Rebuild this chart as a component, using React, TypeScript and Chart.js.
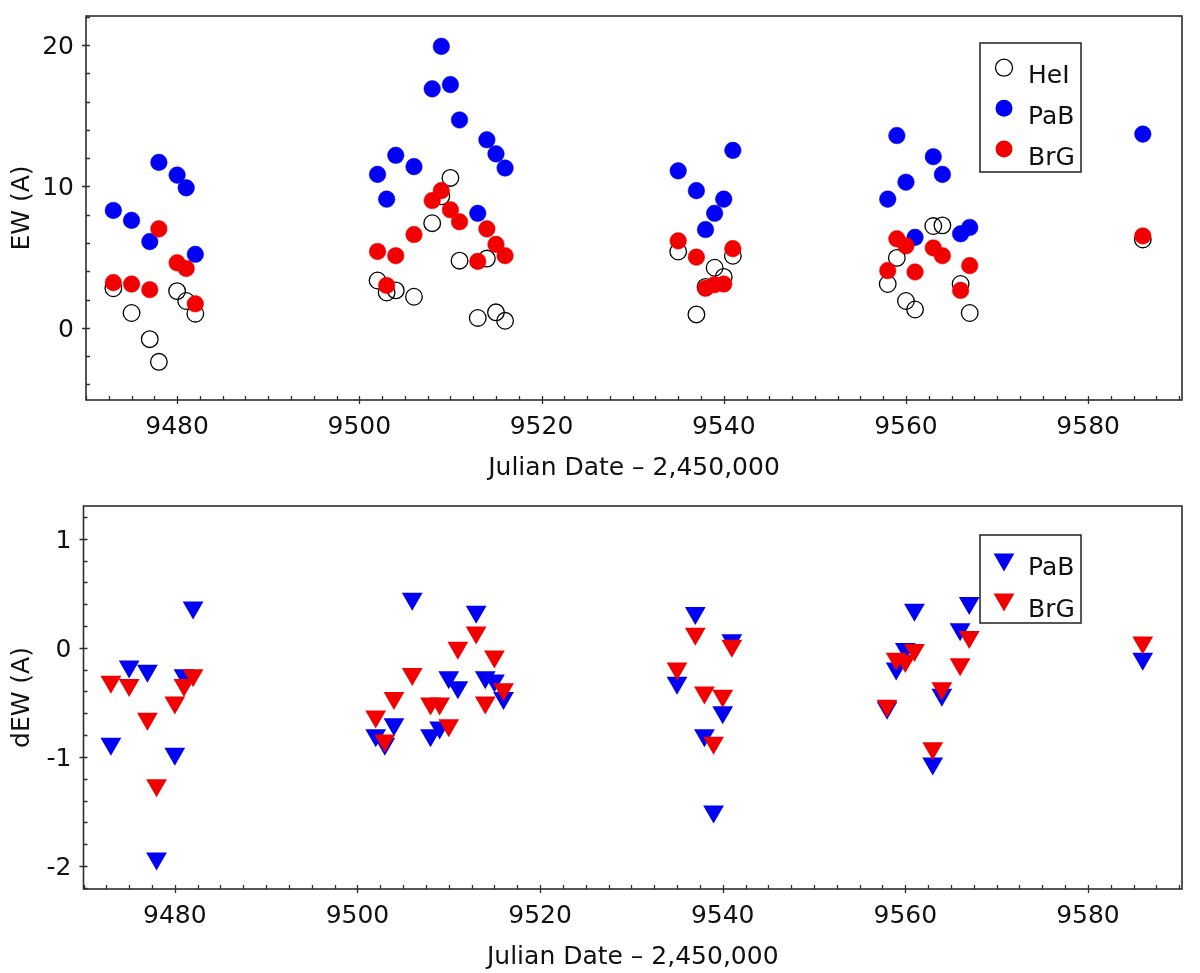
import { useEffect, useRef } from "react";
import { Chart, registerables } from "chart.js";

Chart.register(...registerables);

const FONT = "'DejaVu Sans', sans-serif";
const INK = "#111";
const FRAME = "#2e2e2e";
const BLUE = "#0000f5";
const RED = "#f20000";

// Julian Date - 2,450,000
const jd = [
  9473, 9475, 9477, 9478, 9480, 9481, 9482,
  9502, 9503, 9504, 9506, 9508, 9509, 9510, 9511, 9513, 9514, 9515, 9516,
  9535, 9537, 9538, 9539, 9540, 9541,
  9558, 9559, 9560, 9561, 9563, 9564, 9566, 9567,
  9586,
];

// equivalent widths (A)
const ewHeI = [
  2.8, 1.05, -0.8, -2.4, 2.6, 1.9, 1.0,
  3.35, 2.5, 2.65, 2.2, 7.4, 9.3, 10.6, 4.75, 0.7, 4.9, 1.1, 0.5,
  5.4, 0.95, 2.9, 4.25, 3.6, 5.1,
  3.1, 4.95, 1.9, 1.3, 7.2, 7.25, 3.1, 1.05,
  6.25,
];
const ewPaB = [
  8.3, 7.6, 6.1, 11.7, 10.8, 9.9, 5.2,
  10.85, 9.1, 12.2, 11.4, 16.9, 19.9, 17.2, 14.7, 8.1, 13.3, 12.3, 11.3,
  11.1, 9.7, 6.95, 8.1, 9.1, 12.55,
  9.1, 13.6, 10.3, 6.4, 12.1, 10.85, 6.65, 7.1,
  13.7,
];
const ewBrG = [
  3.2, 3.1, 2.7, 7.0, 4.6, 4.2, 1.7,
  5.4, 3.0, 5.1, 6.6, 9.0, 9.7, 8.35, 7.5, 4.7, 7.0, 5.9, 5.1,
  6.15, 5.0, 2.8, 3.05, 3.1, 5.6,
  4.05, 6.3, 5.8, 3.95, 5.65, 5.1, 2.65, 4.4,
  6.5,
];

// dEW (A)
const dewPaB = [
  -0.88, -0.17, -0.21, -1.93, -0.97, -0.25, 0.37,
  -0.8, -0.88, -0.7, 0.45, -0.8, -0.73, -0.27, -0.36, 0.33, -0.27, -0.3, -0.46,
  -0.32, 0.32, -0.8, -1.5, -0.59, 0.07,
  -0.55, -0.19, -0.01, 0.35, -1.06, -0.43, 0.17, 0.41,
  -0.1,
];
const dewBrG = [
  -0.31, -0.34, -0.65, -1.26, -0.5, -0.34, -0.25,
  -0.63, -0.85, -0.46, -0.24, -0.51, -0.51, -0.71, 0.0, 0.14, -0.5, -0.08, -0.38,
  -0.19, 0.13, -0.41, -0.87, -0.44, 0.02,
  -0.53, -0.1, -0.12, -0.02, -0.92, -0.37, -0.15, 0.1,
  0.05,
];

const xTicks = [9480, 9500, 9520, 9540, 9560, 9580];
const ewTicks = [0, 10, 20];
const dewTicks = [-2, -1, 0, 1];

const pts = (ys: number[]) => ys.map((y, i) => ({ x: jd[i], y }));

function drawMarker(ctx: CanvasRenderingContext2D, kind: string, color: string, x: number, y: number) {
  ctx.save();
  ctx.beginPath();
  if (kind === "tri") {
    const r = 12;
    ctx.moveTo(x, y + r);
    ctx.lineTo(x - r * 0.866, y - r / 2);
    ctx.lineTo(x + r * 0.866, y - r / 2);
    ctx.closePath();
    ctx.fillStyle = color;
    ctx.fill();
  } else {
    ctx.arc(x, y, 8.5, 0, Math.PI * 2);
    if (kind === "open") {
      ctx.lineWidth = 1.3;
      ctx.strokeStyle = "#000";
      ctx.stroke();
    } else {
      ctx.fillStyle = color;
      ctx.fill();
    }
  }
  ctx.restore();
}

// frame, ticks, axis text and boxed legend
const framePlugin = {
  id: "frame",
  afterDraw(chart: any, _args: any, opts: any) {
    const { ctx, chartArea: a, scales } = chart;
    const x = scales.x;
    const y = scales.y;
    ctx.save();
    ctx.strokeStyle = FRAME;
    ctx.lineWidth = 1.6;
    ctx.strokeRect(a.left, a.top, a.right - a.left, a.bottom - a.top);

    ctx.lineWidth = 1.3;
    ctx.beginPath();
    for (let v = Math.ceil(x.min / opts.xMinor) * opts.xMinor; v <= x.max; v += opts.xMinor) {
      const px = Math.round(x.getPixelForValue(v)) + 0.5;
      const major = Math.abs(v / opts.xMajor - Math.round(v / opts.xMajor)) < 1e-6;
      ctx.moveTo(px, a.bottom - 4);
      ctx.lineTo(px, a.bottom + (major ? 4 : 0));
    }
    for (let v = Math.ceil(y.min / opts.yMinor - 1e-9) * opts.yMinor; v <= y.max; v += opts.yMinor) {
      const py = Math.round(y.getPixelForValue(v)) + 0.5;
      const major = Math.abs(v / opts.yMajor - Math.round(v / opts.yMajor)) < 1e-6;
      ctx.moveTo(a.left + 4, py);
      ctx.lineTo(a.left - (major ? 4 : 0), py);
    }
    ctx.stroke();

    // tick labels and axis titles
    ctx.fillStyle = INK;
    ctx.font = `25px ${FONT}`;
    ctx.textBaseline = "alphabetic";
    ctx.textAlign = "center";
    xTicks.forEach((v) => ctx.fillText(String(v), x.getPixelForValue(v), a.bottom + 34));
    ctx.textAlign = "right";
    opts.yTicks.forEach((v: number) => ctx.fillText(String(v), a.left - 12, y.getPixelForValue(v) + 9));
    ctx.textAlign = "center";
    ctx.fillText("Julian Date – 2,450,000", (a.left + a.right) / 2, a.bottom + 75);
    ctx.save();
    ctx.translate(29, (a.top + a.bottom) / 2);
    ctx.rotate(-Math.PI / 2);
    ctx.fillText(opts.yTitle, 0, 0);
    ctx.restore();

    const lg = opts.legend;
    ctx.fillStyle = "#fff";
    ctx.fillRect(lg.x, lg.y, lg.w, lg.h);
    ctx.strokeStyle = FRAME;
    ctx.lineWidth = 1.6;
    ctx.strokeRect(lg.x, lg.y, lg.w, lg.h);
    ctx.textAlign = "left";
    lg.items.forEach((it: any, i: number) => {
      drawMarker(ctx, it.marker, it.color, lg.markerX, lg.rows[i]);
      ctx.fillStyle = INK;
      ctx.fillText(it.label, lg.textX, lg.baselines[i]);
    });
    ctx.restore();
  },
};

function makeOptions(p: {
  yMin: number; yMax: number; yTicks: number[]; yTitle: string;
  left: number; top: number; xHeight: number;
  yMinor: number; yMajor: number; legend: any;
}): any {
  return {
    responsive: false,
    animation: false,
    events: [],
    layout: { padding: { left: 0, top: p.top, right: 18, bottom: 0 } },
    plugins: {
      legend: { display: false },
      tooltip: { enabled: false },
      frame: {
        xMinor: 2.5, xMajor: 20, yMinor: p.yMinor, yMajor: p.yMajor,
        yTicks: p.yTicks, yTitle: p.yTitle, legend: p.legend,
      },
    },
    scales: {
      x: {
        type: "linear",
        min: 9470,
        max: 9590.3,
        afterFit: (s: any) => { s.height = p.xHeight; },
        grid: { display: false },
        border: { display: false },
        ticks: { display: false },
      },
      y: {
        type: "linear",
        min: p.yMin,
        max: p.yMax,
        afterFit: (s: any) => { s.width = p.left; },
        grid: { display: false },
        border: { display: false },
        ticks: { display: false },
      },
    },
  };
}

export default function App() {
  const topRef = useRef<HTMLCanvasElement>(null);
  const botRef = useRef<HTMLCanvasElement>(null);

  useEffect(() => {
    if (!topRef.current || !botRef.current) return;

    const top = new Chart(topRef.current, {
      type: "scatter",
      data: {
        datasets: [
          { label: "HeI", data: pts(ewHeI), order: 2, pointStyle: "circle", radius: 8.3, backgroundColor: "rgba(0,0,0,0)", borderColor: "#000", borderWidth: 1.3 },
          { label: "PaB", data: pts(ewPaB), order: 1, pointStyle: "circle", radius: 8.3, backgroundColor: BLUE, borderColor: BLUE, borderWidth: 0.5 },
          { label: "BrG", data: pts(ewBrG), order: 0, pointStyle: "circle", radius: 8.3, backgroundColor: RED, borderColor: RED, borderWidth: 0.5 },
        ],
      },
      options: makeOptions({
        yMin: -5.1, yMax: 22.05, yTicks: ewTicks, yTitle: "EW (A)",
        left: 86, top: 16, xHeight: 86, yMinor: 2, yMajor: 10,
        legend: {
          x: 980, y: 43, w: 101, h: 129, markerX: 1004, textX: 1028,
          rows: [67.7, 108.3, 149], baselines: [83, 124, 164.5],
          items: [
            { label: "HeI", marker: "open", color: "#000" },
            { label: "PaB", marker: "dot", color: BLUE },
            { label: "BrG", marker: "dot", color: RED },
          ],
        },
      }),
      plugins: [framePlugin],
    } as any);

    const bot = new Chart(botRef.current, {
      type: "scatter",
      data: {
        datasets: [
          { label: "PaB", data: pts(dewPaB), order: 1, pointStyle: "triangle", rotation: 180, radius: 12, backgroundColor: BLUE, borderColor: BLUE, borderWidth: 0 },
          { label: "BrG", data: pts(dewBrG), order: 0, pointStyle: "triangle", rotation: 180, radius: 12, backgroundColor: RED, borderColor: RED, borderWidth: 0 },
        ],
      },
      options: makeOptions({
        yMin: -2.21, yMax: 1.3, yTicks: dewTicks, yTitle: "dEW (A)",
        left: 83.5, top: 20, xHeight: 84, yMinor: 0.2, yMajor: 1,
        legend: {
          x: 980, y: 49, w: 101, h: 88, markerX: 1004, textX: 1028,
          rows: [73.4, 113.5], baselines: [89, 130.5],
          items: [
            { label: "PaB", marker: "tri", color: BLUE },
            { label: "BrG", marker: "tri", color: RED },
          ],
        },
      }),
      plugins: [framePlugin],
    } as any);

    return () => {
      top.destroy();
      bot.destroy();
    };
  }, []);

  return (
    <div style={{ position: "absolute", left: 0, top: 0, width: 1200, height: 973, background: "#fff" }}>
      <canvas ref={topRef} width={1200} height={486} style={{ display: "block", width: 1200, height: 486 }} />
      <canvas ref={botRef} width={1200} height={487} style={{ display: "block", width: 1200, height: 487 }} />
    </div>
  );
}
